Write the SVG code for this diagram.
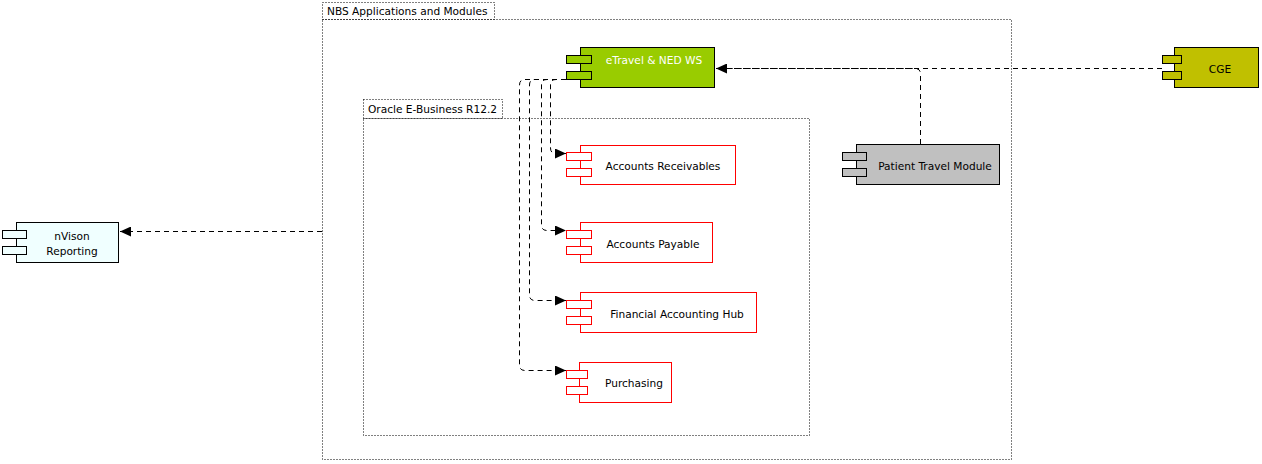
<svg xmlns="http://www.w3.org/2000/svg" width="1262" height="464" viewBox="0 0 1262 464">
<style>
text{font-family:"DejaVu Sans","Liberation Sans",sans-serif;font-size:10.6px;fill:#000}
.frame{fill:none;stroke:#000;stroke-width:1;stroke-dasharray:1,2}
.red{fill:#fff;stroke:#f00;stroke-width:1}
.blk{stroke:#000;stroke-width:1}
.conn{fill:none;stroke:#000;stroke-width:1;stroke-dasharray:5,4}
.c{text-anchor:middle}
</style>
<defs>
<marker id="arr" markerWidth="12" markerHeight="10" refX="11" refY="5" orient="auto" markerUnits="userSpaceOnUse">
<path d="M0,0 L11,5 L0,10 Z" fill="#000"/>
</marker>
</defs>
<g id="frame-nbs">
<rect class="frame" x="322.5" y="2.5" width="172" height="17"/>
<rect class="frame" x="322.5" y="19.5" width="689" height="440"/>
<text x="327" y="15">NBS Applications and Modules</text>
</g>
<g id="frame-oracle">
<rect class="frame" x="363.5" y="99.5" width="139" height="19"/>
<rect class="frame" x="363.5" y="118.5" width="446" height="317"/>
<text x="368" y="113">Oracle E-Business R12.2</text>
</g>
<g id="etravel">
<rect class="blk" x="580.5" y="47.5" width="134" height="40" fill="#99CC00"/>
<rect class="blk" x="566.5" y="55.5" width="25" height="8" fill="#99CC00"/>
<rect class="blk" x="566.5" y="71.5" width="25" height="8" fill="#99CC00"/>
<text class="c" x="654" y="64" style="fill:#fff">eTravel &amp; NED WS</text>
</g>
<g id="cge">
<rect class="blk" x="1174.5" y="47.5" width="84" height="40" fill="#C0C000"/>
<rect class="blk" x="1162.5" y="55.5" width="19" height="8" fill="#C0C000"/>
<rect class="blk" x="1162.5" y="71.5" width="19" height="8" fill="#C0C000"/>
<text class="c" x="1220" y="73">CGE</text>
</g>
<g id="patient-travel">
<rect class="blk" x="856.5" y="144.5" width="143" height="40" fill="#C0C0C0"/>
<rect class="blk" x="842.5" y="152.5" width="24" height="8" fill="#C0C0C0"/>
<rect class="blk" x="842.5" y="168.5" width="24" height="8" fill="#C0C0C0"/>
<text class="c" x="935" y="170">Patient Travel Module</text>
</g>
<g id="nvison">
<rect class="blk" x="16.5" y="222.5" width="102" height="40" fill="#F0FFFF"/>
<rect class="blk" x="2.5" y="230.5" width="24" height="8" fill="#F0FFFF"/>
<rect class="blk" x="2.5" y="246.5" width="24" height="8" fill="#F0FFFF"/>
<text class="c" x="72" y="240">nVison</text>
<text class="c" x="72" y="255">Reporting</text>
</g>
<g id="accounts-receivables">
<rect class="red" x="580.5" y="145.5" width="155" height="39"/>
<rect class="red" x="566.5" y="152.5" width="25" height="8"/>
<rect class="red" x="566.5" y="168.5" width="25" height="8"/>
<text class="c" x="663" y="170">Accounts Receivables</text>
</g>
<g id="accounts-payable">
<rect class="red" x="580.5" y="222.5" width="132" height="40"/>
<rect class="red" x="566.5" y="230.5" width="25" height="8"/>
<rect class="red" x="566.5" y="246.5" width="25" height="8"/>
<text class="c" x="653" y="248">Accounts Payable</text>
</g>
<g id="financial-accounting-hub">
<rect class="red" x="580.5" y="292.5" width="176" height="40"/>
<rect class="red" x="566.5" y="300.5" width="25" height="8"/>
<rect class="red" x="566.5" y="316.5" width="25" height="8"/>
<text class="c" x="677" y="318">Financial Accounting Hub</text>
</g>
<g id="purchasing">
<rect class="red" x="579.5" y="362.5" width="92" height="40"/>
<rect class="red" x="566.5" y="370.5" width="21" height="8"/>
<rect class="red" x="566.5" y="386.5" width="21" height="8"/>
<text class="c" x="634" y="387">Purchasing</text>
</g>
<g id="connectors">
<path class="conn" d="M1162,68.5 H716" marker-end="url(#arr)"/>
<path class="conn" d="M920.5,144 V74 Q920.5,68.5 915,68.5 H716"/>
<path class="conn" d="M322,231.5 H120" marker-end="url(#arr)"/>
<path class="conn" d="M566,79.5 H556 Q550.5,79.5 550.5,85 V148 Q550.5,153.5 556,153.5 H566" marker-end="url(#arr)"/>
<path class="conn" d="M566,79.5 H547 Q541.5,79.5 541.5,85 V225 Q541.5,230.5 547,230.5 H566" marker-end="url(#arr)"/>
<path class="conn" d="M566,79.5 H535 Q529.5,79.5 529.5,85 V295 Q529.5,300.5 535,300.5 H566" marker-end="url(#arr)"/>
<path class="conn" d="M566,79.5 H525 Q519.5,79.5 519.5,85 V365 Q519.5,370.5 525,370.5 H566" marker-end="url(#arr)"/>
</g>
</svg>
